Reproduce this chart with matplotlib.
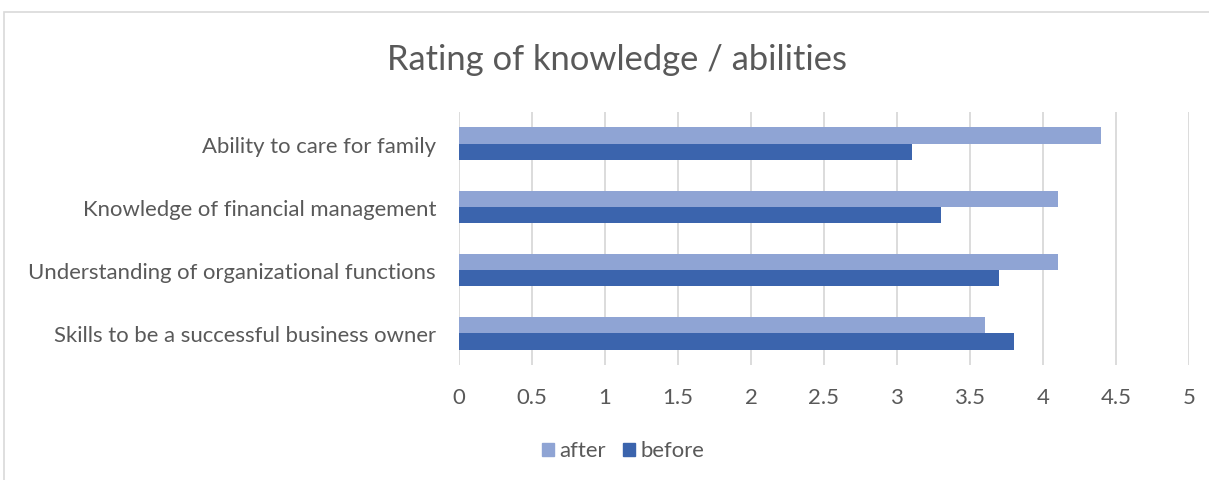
import matplotlib
matplotlib.use("Agg")
import matplotlib.pyplot as plt
from matplotlib.patches import Rectangle
import numpy as np

# ---- data ----
categories = ["Skills to be a successful business owner",
              "Understanding of organizational functions",
              "Knowledge of financial management",
              "Ability to care for family"]
after = [3.6, 4.1, 4.1, 4.4]
before = [3.8, 3.7, 3.3, 3.1]
xticks = [0, 0.5, 1, 1.5, 2, 2.5, 3, 3.5, 4, 4.5, 5]
xtick_labels = ["0", "0.5", "1", "1.5", "2", "2.5", "3", "3.5", "4", "4.5", "5"]
title = "Rating of knowledge / abilities"
series_names = ["after", "before"]

# ---- style ----
W, H = 1209, 481
DPI = 100
C_AFTER = "#8FA4D4"
C_BEFORE = "#3B64AD"
TXT = "#595959"
GRID = "#D9D9D9"
plt.rcParams["font.family"] = ["Lato", "DejaVu Sans"]

fig = plt.figure(figsize=(W / DPI, H / DPI), dpi=DPI)
fig.patch.set_facecolor("white")

# chart border (extends beyond right/bottom edges)
fig.add_artist(Rectangle((4 / W, -0.1), 1.2, (H - 13) / H + 0.1,
                         transform=fig.transFigure, fill=False,
                         edgecolor=GRID, linewidth=1.2))

left, right = 459 / W, 1189 / W
top, bottom = (H - 113) / H, (H - 366) / H
ax = fig.add_axes([left, bottom, right - left, top - bottom])

y = np.arange(len(categories))
bh = 0.257
ax.barh(y + bh / 2, after, height=bh, color=C_AFTER, label=series_names[0], zorder=3)
ax.barh(y - bh / 2, before, height=bh, color=C_BEFORE, label=series_names[1], zorder=3)

ax.set_xlim(0, 5)
ax.set_ylim(-0.5, len(categories) - 0.5)
ax.set_xticks(xticks)
ax.set_xticklabels(xtick_labels)
ax.set_yticks(y)
ax.set_yticklabels(categories)
ax.grid(axis="x", color=GRID, linewidth=1.3, zorder=0)
for s in ax.spines.values():
    s.set_visible(False)
ax.tick_params(axis="both", length=0, colors=TXT)
ax.tick_params(axis="x", pad=16)
ax.tick_params(axis="y", pad=16.5)

fs = 13.5
for t in ax.get_xticklabels() + ax.get_yticklabels():
    t.set_fontsize(fs)
    t.set_color(TXT)

ttl = fig.text(617 / W, (H - 60) / H, title, ha="center", va="center",
               color=TXT, fontsize=22)

handles = [Rectangle((0, 0), 1, 1, color=C_AFTER), Rectangle((0, 0), 1, 1, color=C_BEFORE)]
leg = fig.legend(handles, series_names, loc="center", bbox_to_anchor=(623 / W, (H - 451) / H),
                 ncol=2, frameon=False, fontsize=fs, labelcolor=TXT,
                 handlelength=0.65, handleheight=0.65, handletextpad=0.3, columnspacing=0.9)

# fit font sizes to measured widths
fig.canvas.draw()
r = fig.canvas.get_renderer()
wmax = max(t.get_window_extent(r).width for t in ax.get_yticklabels())
fs2 = fs * 409 / wmax
for t in ax.get_xticklabels() + ax.get_yticklabels():
    t.set_fontsize(fs2)
for t in leg.get_texts():
    t.set_fontsize(fs2)
tw = ttl.get_window_extent(r).width
ttl.set_fontsize(22 * 458 / tw)

fig.savefig("out.png", dpi=DPI, facecolor="white")
